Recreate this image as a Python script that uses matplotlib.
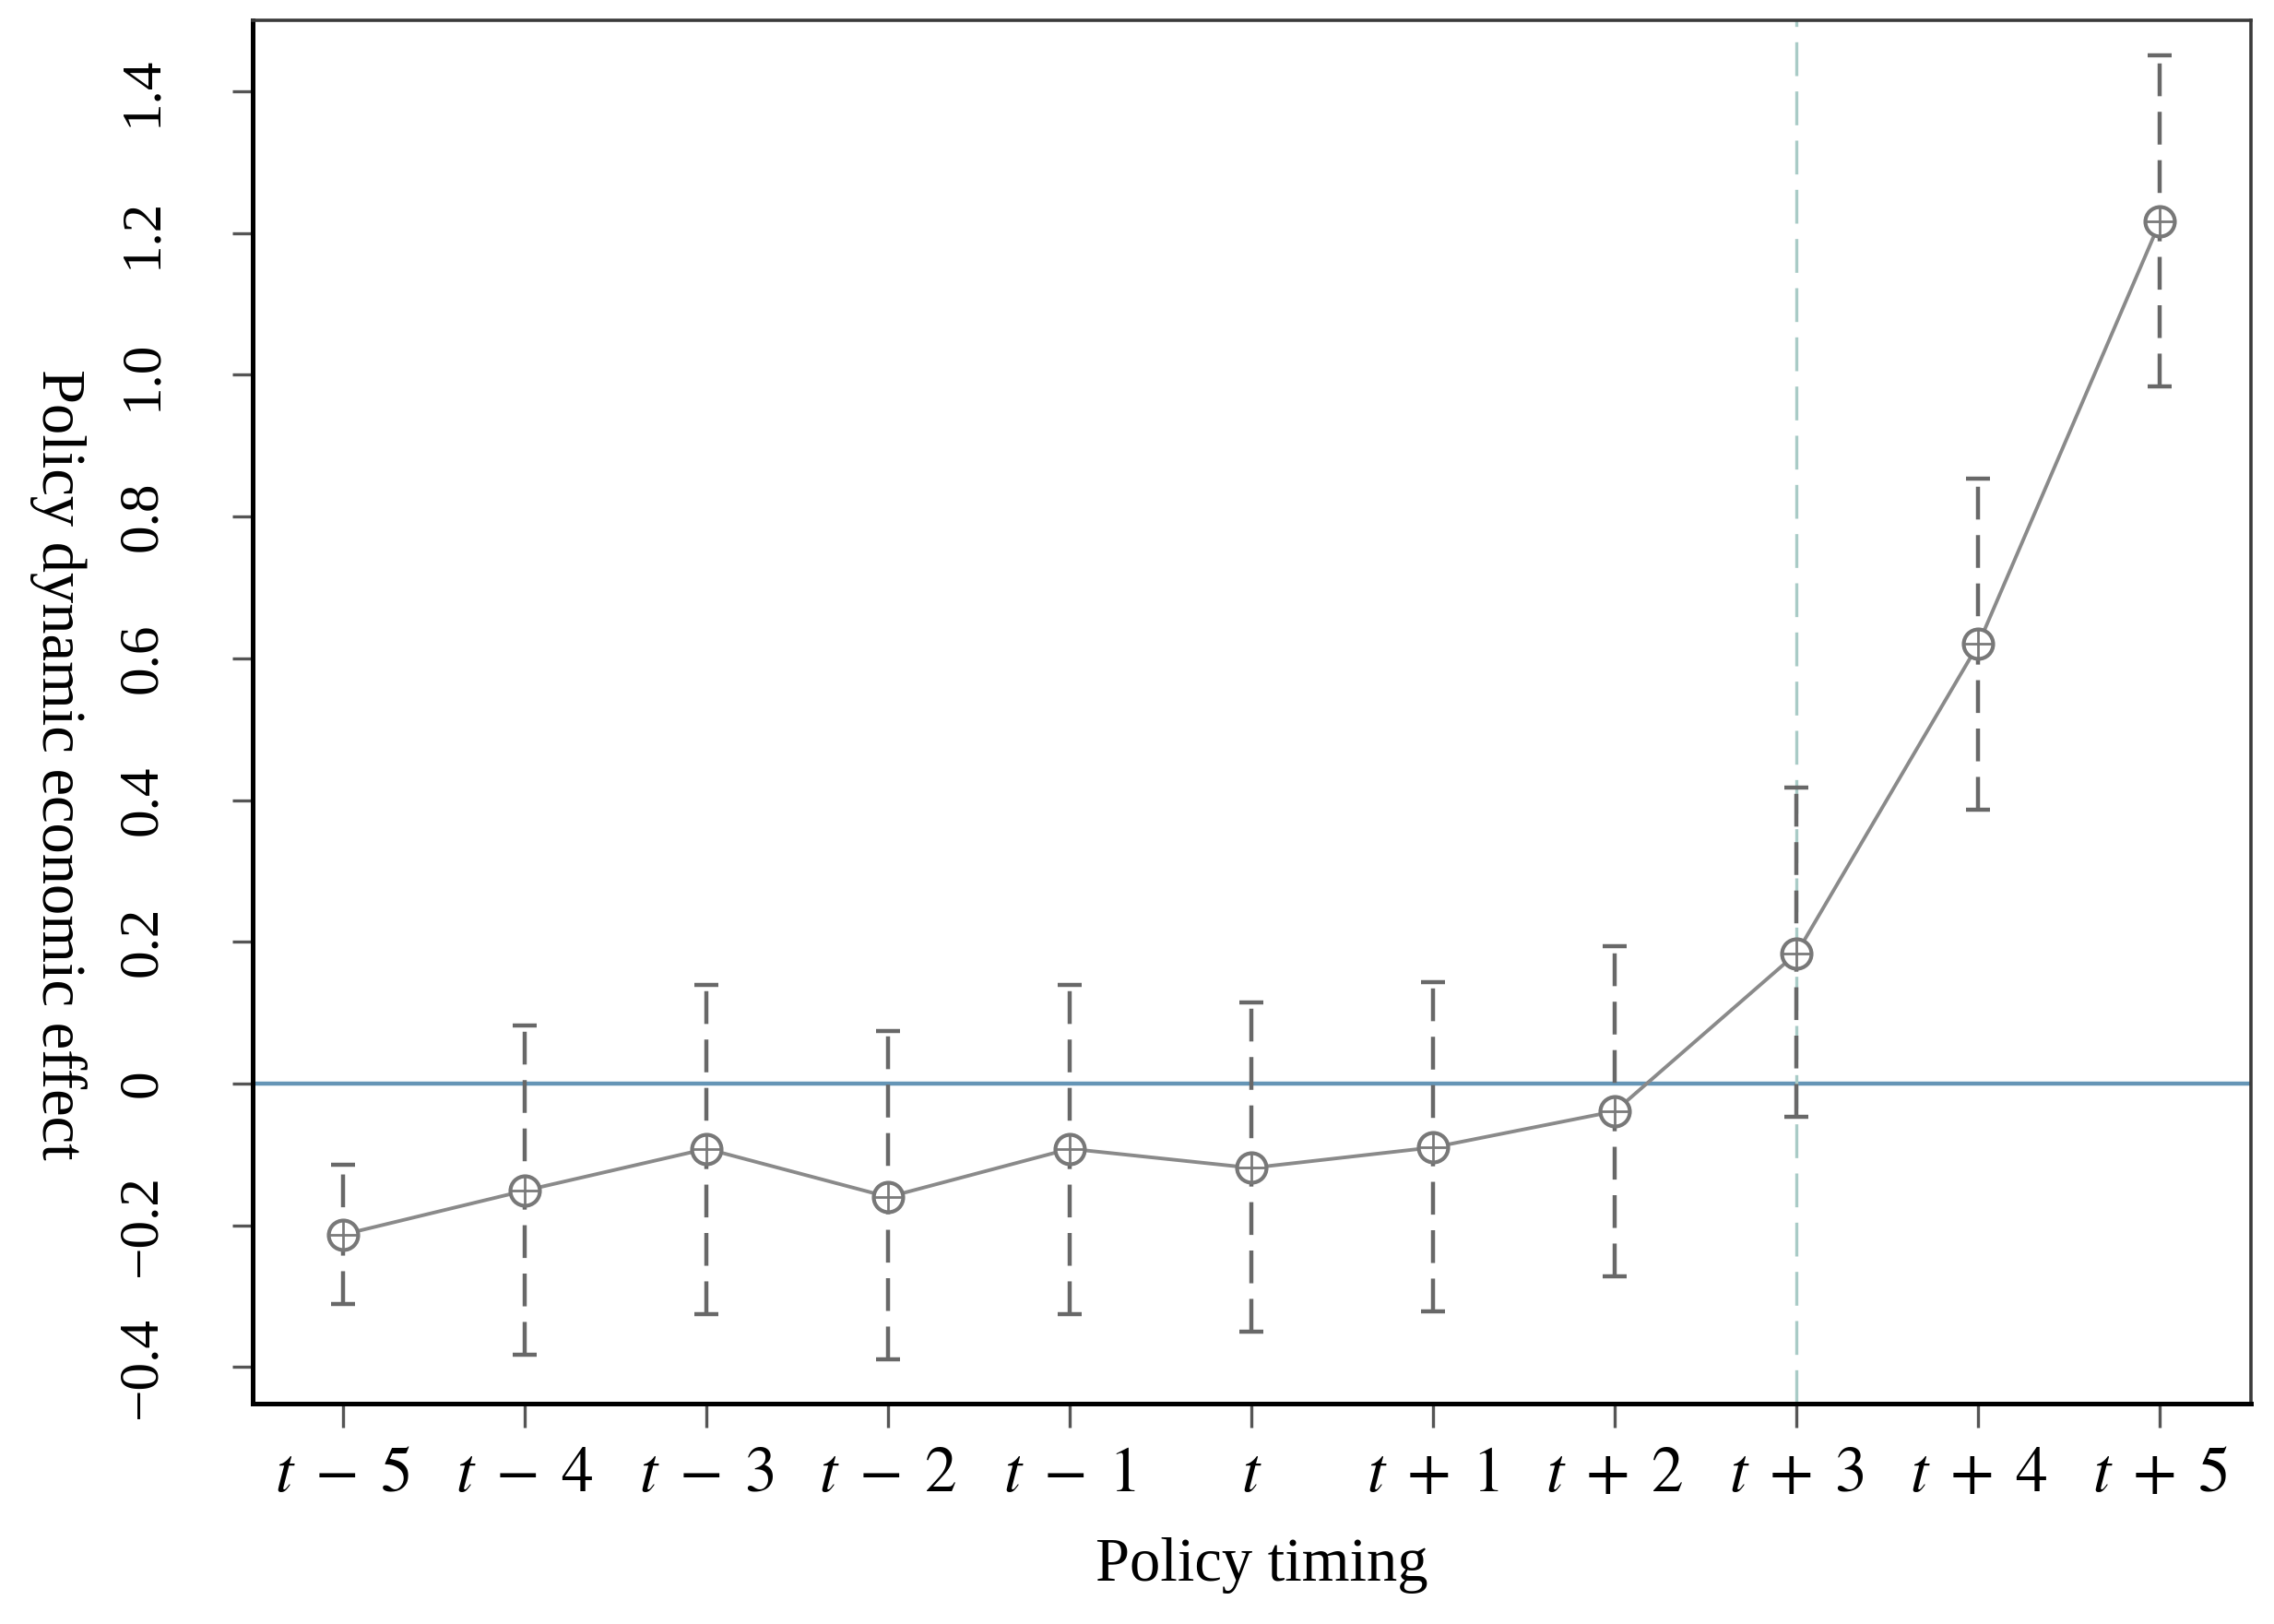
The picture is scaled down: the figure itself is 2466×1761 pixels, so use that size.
import numpy as np
import matplotlib
matplotlib.use("Agg")
import matplotlib.pyplot as plt

# event-study estimates
periods = [-5, -4, -3, -2, -1, 0, 1, 2, 3, 4, 5]
tick_labels = [r"$t\;-\;5$", r"$t\;-\;4$", r"$t\;-\;3$", r"$t\;-\;2$", r"$t\;-\;1$", r"$t$",
               r"$t\;+\;1$", r"$t\;+\;2$", r"$t\;+\;3$", r"$t\;+\;4$", r"$t\;+\;5$"]
coef = [-0.213, -0.151, -0.092, -0.160, -0.092, -0.119, -0.090, -0.039, 0.184, 0.620, 1.216]
ci_low = [-0.311, -0.383, -0.325, -0.389, -0.325, -0.350, -0.321, -0.272, -0.047, 0.387, 0.984]
ci_high = [-0.115, 0.082, 0.139, 0.074, 0.139, 0.115, 0.143, 0.194, 0.418, 0.853, 1.451]
yticks = [-0.4, -0.2, 0, 0.2, 0.4, 0.6, 0.8, 1.0, 1.2, 1.4]
ytick_labels = ["\u22120.4", "\u22120.2", "0", "0.2", "0.4", "0.6", "0.8", "1.0", "1.2", "1.4"]
policy_period = 3

plt.rcParams["font.family"] = ["Liberation Serif", "DejaVu Serif"]
plt.rcParams["mathtext.fontset"] = "stix"

W, H = 2466, 1761
fig = plt.figure(figsize=(W / 100, H / 100), dpi=100)
ax = fig.add_axes([273.6 / W, 1 - 1522.4 / H, (2441 - 273.6) / W, (1522.4 - 22) / H])

x = np.array(periods)
lo = np.array(coef) - np.array(ci_low)
hi = np.array(ci_high) - np.array(coef)

#reference lines
ax.axhline(0, color="#6595b6", lw=3.2, zorder=1)
ax.axvline(policy_period, color="#a9cbc6", lw=2.4, dashes=(11, 5), zorder=1)

#error bars
eb = ax.errorbar(x, coef, yerr=[lo, hi], fmt="none", ecolor="#686868",
                 elinewidth=3.2, capsize=9.7, capthick=3.2, zorder=2)
eb[2][0].set_linestyle((0, (8, 3.8)))

#estimate line with circle-plus markers
ax.plot(x, coef, color="#8a8a8a", lw=2.8, zorder=3)
ax.plot(x, coef, ls="none", marker="o", ms=23, mfc="white", mec="#787878", mew=3.0, zorder=4)
ax.plot(x, coef, ls="none", marker="+", ms=22, mec="#7a7a7a", mew=2.0, zorder=5)

ax.set_xlim(-5.5, 5.5)
ax.set_ylim(-0.452, 1.50)

ax.set_xticks(periods)
ax.set_xticklabels(tick_labels, fontsize=50)
ax.set_yticks(yticks)
ax.set_yticklabels(ytick_labels, fontsize=44, rotation=90, va="center")

ax.tick_params(axis="y", length=16, width=2.4, color="#555555", pad=50)
ax.tick_params(axis="x", length=19, width=2.4, color="#555555", pad=14)

for side in ["left", "bottom"]:
    ax.spines[side].set_linewidth(3.6)
    ax.spines[side].set_color("black")
for side in ["top", "right"]:
    ax.spines[side].set_linewidth(2.6)
    ax.spines[side].set_color("#3a3a3a")

fig.text(870 * 1.5727 / W, 1 - 1698 / H, "Policy timing", fontsize=48, ha="center", va="center")
fig.text(63 / W, 1 - 829 / H, "Policy dynamic economic effect", fontsize=48,
         rotation=270, ha="center", va="center")

plt.savefig("out.png", dpi=100)
